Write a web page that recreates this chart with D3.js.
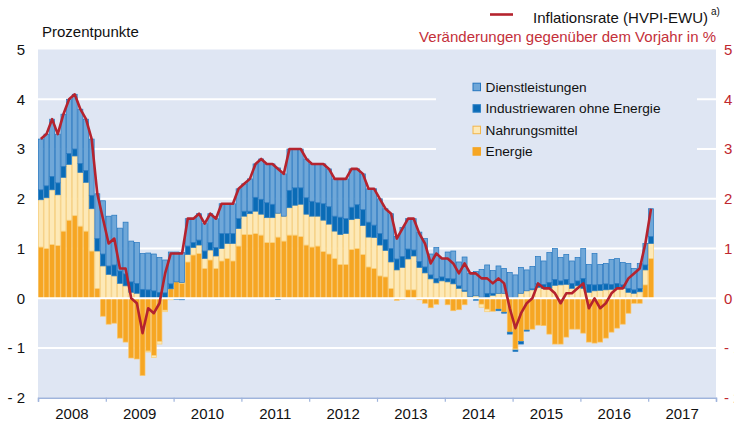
<!DOCTYPE html>
<html>
<head>
<meta charset="utf-8">
<script src="https://cdn.jsdelivr.net/npm/d3@7"></script>
<style>
body { margin: 0; background: #fff; }
svg { display: block; font-family: "Liberation Sans", Arial, sans-serif; }
</style>
</head>
<body>
<svg id="chart" width="734" height="423"></svg>
<script>
// monthly data, Jan 2008 .. Jan 2017, contributions in percentage points
const years = ["2008", "2009", "2010", "2011", "2012", "2013", "2014", "2015", "2016", "2017"];
const yTicks = [5, 4, 3, 2, 1, 0, -1, -2];

const energie = [
  1.03, 1.00, 1.08, 1.06, 1.35, 1.57, 1.66, 1.45, 1.35, 0.95, 0.20, -0.36,
  -0.52, -0.50, -0.80, -0.88, -1.20, -1.22, -1.55, -1.06, -1.15, -0.87, -0.24, 0.19,
  0.33, 0.30, 0.73, 0.87, 0.90, 0.60, 0.77, 0.60, 0.75, 0.80, 0.75, 1.05,
  1.28, 1.28, 1.30, 1.27, 1.12, 1.12, 1.23, 1.15, 1.27, 1.27, 1.24, 1.07,
  1.03, 1.05, 0.94, 0.89, 0.80, 0.68, 0.68, 0.98, 1.00, 0.88, 0.63, 0.60,
  0.45, 0.43, 0.20, -0.04, -0.02, 0.17, 0.17, -0.03, -0.10, -0.19, -0.12, 0.00,
  -0.13, -0.25, -0.23, -0.13, 0.00, 0.01, -0.12, -0.22, -0.26, -0.22, -0.28, -0.68,
  -1.02, -0.87, -0.64, -0.62, -0.54, -0.55, -0.72, -0.92, -0.92, -0.78, -0.62, -0.62,
  -0.70, -0.88, -0.90, -0.88, -0.80, -0.68, -0.60, -0.52, -0.30, -0.10, -0.10, 0.27,
  0.80
];
const nahrung = [
  0.95, 1.02, 1.10, 1.02, 1.08, 1.12, 1.20, 1.08, 0.98, 0.85, 0.75, 0.65,
  0.48, 0.45, 0.30, 0.25, 0.12, 0.10, 0.00, -0.02, -0.04, -0.05, -0.03, -0.03,
  0.00, 0.02, 0.15, 0.15, 0.17, 0.20, 0.20, 0.25, 0.25, 0.30, 0.35, 0.35,
  0.37, 0.42, 0.45, 0.42, 0.50, 0.50, 0.48, 0.50, 0.55, 0.60, 0.65, 0.62,
  0.62, 0.60, 0.63, 0.60, 0.55, 0.60, 0.62, 0.60, 0.60, 0.58, 0.60, 0.62,
  0.62, 0.53, 0.53, 0.57, 0.62, 0.62, 0.68, 0.62, 0.51, 0.39, 0.31, 0.35,
  0.33, 0.29, 0.20, 0.14, 0.03, 0.04, -0.06, -0.05, 0.06, 0.10, 0.10, 0.00,
  -0.02, 0.10, 0.15, 0.17, 0.22, 0.20, 0.20, 0.26, 0.27, 0.28, 0.20, 0.25,
  0.20, 0.12, 0.15, 0.16, 0.17, 0.18, 0.20, 0.20, 0.12, 0.10, 0.13, 0.30,
  0.30
];
const industrie = [
  0.20, 0.24, 0.27, 0.24, 0.22, 0.22, 0.14, 0.18, 0.24, 0.27, 0.25, 0.24,
  0.17, 0.22, 0.25, 0.24, 0.21, 0.20, 0.18, 0.17, 0.15, 0.12, 0.11, 0.10,
  -0.02, -0.03, 0.17, 0.10, 0.10, 0.15, 0.15, 0.17, 0.30, 0.20, 0.20, 0.20,
  0.10, 0.05, 0.28, 0.30, 0.30, 0.27, -0.02, 0.00, 0.35, 0.35, 0.33, 0.33,
  0.30, 0.27, 0.33, 0.35, 0.30, 0.35, 0.30, 0.25, 0.28, 0.32, 0.30, 0.25,
  0.23, 0.22, 0.27, 0.22, 0.22, 0.20, 0.12, 0.12, 0.12, 0.08, 0.09, 0.08,
  0.07, 0.10, 0.05, 0.02, 0.00, -0.04, 0.02, 0.10, 0.04, -0.03, -0.02, -0.04,
  -0.03, -0.05, -0.02, 0.02, 0.07, 0.08, 0.12, 0.12, 0.08, 0.10, 0.10, 0.10,
  0.20, 0.16, 0.12, 0.12, 0.12, 0.10, 0.10, 0.07, 0.08, 0.07, 0.07, 0.10,
  0.14
];
const dienst = [
  1.02, 1.04, 1.15, 0.98, 1.05, 1.09, 1.10, 1.09, 1.03, 1.13, 0.90, 1.07,
  1.00, 1.00, 0.86, 1.04, 0.82, 0.82, 0.72, 0.74, 0.74, 0.70, 0.66, 0.64,
  0.60, 0.60, 0.55, 0.48, 0.53, 0.55, 0.58, 0.58, 0.60, 0.60, 0.60, 0.60,
  0.55, 0.65, 0.67, 0.81, 0.78, 0.81, 0.91, 0.85, 0.83, 0.78, 0.78, 0.78,
  0.75, 0.78, 0.80, 0.76, 0.75, 0.77, 0.80, 0.77, 0.72, 0.72, 0.67, 0.73,
  0.70, 0.62, 0.70, 0.45, 0.58, 0.61, 0.63, 0.59, 0.57, 0.42, 0.62, 0.37,
  0.53, 0.56, 0.48, 0.67, 0.47, 0.49, 0.56, 0.57, 0.46, 0.55, 0.50, 0.52,
  0.47, 0.52, 0.42, 0.45, 0.55, 0.47, 0.60, 0.62, 0.47, 0.50, 0.45, 0.47,
  0.60, 0.40, 0.63, 0.40, 0.41, 0.50, 0.50, 0.45, 0.50, 0.43, 0.50, 0.43,
  0.56
];
const inflation = [
  3.2, 3.3, 3.6, 3.3, 3.7, 4.0, 4.1, 3.8, 3.6, 3.2, 2.1, 1.6,
  1.1, 1.2, 0.6, 0.6, 0.0, -0.1, -0.7, -0.2, -0.3, -0.1, 0.5, 0.9,
  0.9, 0.9, 1.6, 1.6, 1.7, 1.5, 1.7, 1.6, 1.9, 1.9, 1.9, 2.2,
  2.3, 2.4, 2.7, 2.8, 2.7, 2.7, 2.6, 2.5, 3.0, 3.0, 3.0, 2.8,
  2.7, 2.7, 2.7, 2.6, 2.4, 2.4, 2.4, 2.6, 2.6, 2.5, 2.2, 2.2,
  2.0, 1.8, 1.7, 1.2, 1.4, 1.6, 1.6, 1.3, 1.1, 0.7, 0.9, 0.8,
  0.8, 0.7, 0.5, 0.7, 0.5, 0.5, 0.4, 0.4, 0.3, 0.4, 0.3, -0.2,
  -0.6, -0.3, -0.1, 0.0, 0.3, 0.2, 0.2, 0.1, -0.1, 0.1, 0.1, 0.2,
  0.3, -0.2, 0.0, -0.2, -0.1, 0.1, 0.2, 0.2, 0.4, 0.5, 0.6, 1.1,
  1.8
];

const series = [
  { key: "energie", label: "Energie", fill: "#f6a623", stroke: "#fbc464" },
  { key: "nahrung", label: "Nahrungsmittel", fill: "#fde9b7", stroke: "#f9cd73" },
  { key: "industrie", label: "Industriewaren ohne Energie", fill: "#0a6bb6", stroke: "#2f82c6" },
  { key: "dienst", label: "Dienstleistungen", fill: "#6fa7d8", stroke: "#2476bf" }
];

const table = inflation.map((v, i) => ({
  i: i, energie: energie[i], nahrung: nahrung[i], industrie: industrie[i], dienst: dienst[i]
}));

const plotLeft = 38, plotRight = 716, plotTop = 49.5, plotBottom = 397.8;
const bg = "#dfe6f3";

const svg = d3.select("#chart");

const x = d3.scaleLinear().domain([0, 120]).range([plotLeft, plotRight]);
const y = d3.scaleLinear().domain([-2, 5]).range([plotBottom, plotTop]);

// panel
svg.append("rect")
  .attr("x", plotLeft).attr("y", plotTop)
  .attr("width", plotRight - plotLeft).attr("height", plotBottom - plotTop)
  .attr("fill", bg);

// grid lines
svg.append("g")
  .selectAll("line")
  .data(yTicks.filter(d => d != 0 && d != -2 && d != 5))
  .join("line")
    .attr("x1", plotLeft).attr("x2", plotRight)
    .attr("y1", d => y(d)).attr("y2", d => y(d))
    .attr("stroke", "#fff").attr("stroke-width", 2);

// legend box hides the grid
svg.append("rect")
  .attr("x", 436).attr("y", 70).attr("width", 261).attr("height", 94)
  .attr("fill", bg);

// stacked bars
const stack = d3.stack()
  .keys(series.map(s => s.key))
  .offset(d3.stackOffsetDiverging);
const stacked = stack(table);

const bw = x(1) - x(0);
const barG = svg.append("g");
stacked.forEach((layer, li) => {
  const s = series[li];
  barG.append("g")
    .attr("fill", s.fill)
    .attr("stroke", s.stroke)
    .attr("stroke-width", 0.7)
    .selectAll("rect")
    .data(layer.filter(d => d[0] != d[1]))
    .join("rect")
      .attr("x", d => x(d.data.i) + 0.35)
      .attr("width", bw - 0.7)
      .attr("y", d => y(Math.max(d[0], d[1])))
      .attr("height", d => Math.abs(y(d[0]) - y(d[1])));
});

// zero line on top of bars
svg.append("line")
  .attr("x1", plotLeft).attr("x2", plotRight)
  .attr("y1", y(0)).attr("y2", y(0))
  .attr("stroke", "#fff").attr("stroke-width", 2);

// inflation line
const line = d3.line()
  .x((d, i) => x(i + 0.5))
  .y(d => y(d));
svg.append("path")
  .datum(inflation)
  .attr("d", line)
  .attr("fill", "none")
  .attr("stroke", "#b5232e")
  .attr("stroke-width", 2.6)
  .attr("stroke-linejoin", "round");

// x axis
const xAxis = d3.axisBottom(x)
  .tickValues(d3.range(0, 121, 12))
  .tickSize(4)
  .tickFormat("");
const xg = svg.append("g")
  .attr("transform", `translate(0,${plotBottom})`)
  .call(xAxis);
xg.select(".domain").attr("stroke", "#9fb4dc").attr("stroke-width", 1.5);
xg.selectAll(".tick line").attr("stroke", "#9fb4dc").attr("stroke-width", 1.2);

svg.append("g")
  .selectAll("text")
  .data(years)
  .join("text")
    .attr("x", (d, i) => x(i * 12 + 6))
    .attr("y", 418.5)
    .attr("text-anchor", "middle")
    .attr("font-size", 15)
    .attr("fill", "#111")
    .text(d => d);

// y labels
const fmt = d => d < 0 ? "- " + Math.abs(d) : String(d);
svg.append("g")
  .selectAll("text")
  .data(yTicks)
  .join("text")
    .attr("x", 25)
    .attr("y", d => y(d) + 5.3)
    .attr("text-anchor", "end")
    .attr("font-size", 15)
    .attr("fill", "#111")
    .text(fmt);
svg.append("g")
  .selectAll("text")
  .data(yTicks)
  .join("text")
    .attr("x", 724)
    .attr("y", d => y(d) + 5.3)
    .attr("font-size", 15)
    .attr("fill", "#c0272f")
    .text(fmt);

// titles
svg.append("text")
  .attr("x", 42).attr("y", 37)
  .attr("font-size", 15).attr("fill", "#111")
  .text("Prozentpunkte");

svg.append("line")
  .attr("x1", 490).attr("x2", 513).attr("y1", 14.5).attr("y2", 14.5)
  .attr("stroke", "#b5232e").attr("stroke-width", 2.6);
svg.append("text")
  .attr("x", 533).attr("y", 23)
  .attr("font-size", 15).attr("fill", "#111")
  .text("Inflationsrate (HVPI-EWU)");
svg.append("text")
  .attr("x", 711).attr("y", 15)
  .attr("font-size", 10).attr("fill", "#111")
  .text("a)");
svg.append("text")
  .attr("x", 716).attr("y", 42)
  .attr("text-anchor", "end")
  .attr("font-size", 15).attr("fill", "#c4303a")
  .text("Veränderungen gegenüber dem Vorjahr in %");

// legend
const legendOrder = ["dienst", "industrie", "nahrung", "energie"];
const lg = svg.append("g").selectAll("g")
  .data(legendOrder.map(k => series.find(s => s.key == k)))
  .join("g")
    .attr("transform", (d, i) => `translate(473,${87 + i * 21.5})`);
lg.append("rect")
  .attr("x", 0).attr("y", -3.8).attr("width", 7.5).attr("height", 7.5)
  .attr("fill", d => d.fill)
  .attr("stroke", d => d.key == "energie" ? d.fill : (d.key == "nahrung" ? "#f3b64a" : d.stroke))
  .attr("stroke-width", 1);
lg.append("text")
  .attr("x", 12.5).attr("y", 4.8)
  .attr("font-size", 13.7).attr("fill", "#111")
  .text(d => d.label);
</script>
</body>
</html>
